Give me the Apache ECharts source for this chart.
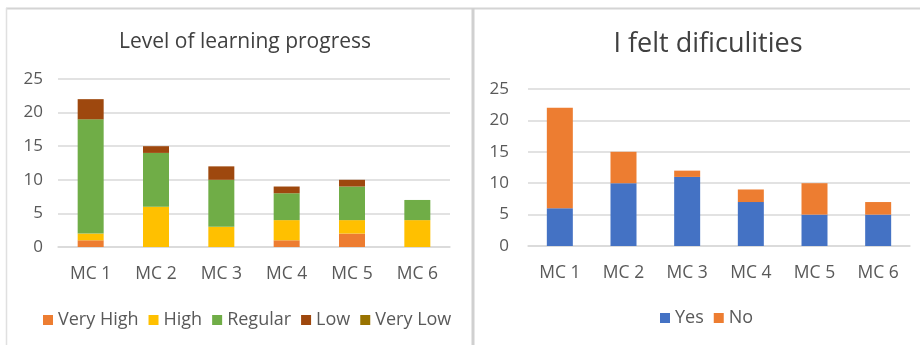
<!DOCTYPE html>
<html>
<head>
<meta charset="utf-8">
<script src="https://cdn.jsdelivr.net/npm/echarts@6/dist/echarts.min.js"></script>
<style>
  html, body { margin: 0; padding: 0; background: #ffffff; }
  #chart { width: 920px; height: 345px; }
</style>
</head>
<body>
<div id="chart"></div>
<script>
// Shared categories
const categories = ['MC 1', 'MC 2', 'MC 3', 'MC 4', 'MC 5', 'MC 6'];
const yTicks = { min: 0, max: 25, interval: 5 };

// Level of learning progress
const veryHigh = [1, 0, 0, 1, 2, 0];
const high     = [1, 6, 3, 3, 2, 4];
const regular  = [17, 8, 7, 4, 5, 3];
const low      = [3, 1, 2, 1, 1, 0];
const veryLow  = [0, 0, 0, 0, 0, 0];

// I felt dificulities
const yes = [6, 10, 11, 7, 5, 5];
const no  = [16, 5, 1, 2, 5, 2];

const FONT = '"Open Sans", "Noto Sans", sans-serif';
const GRID_COLOR = '#d9d9d9';
const LABEL_COLOR = '#595959';

function valueAxis(gridIndex, margin) {
  return {
    type: 'value', gridIndex,
    min: yTicks.min, max: yTicks.max, interval: yTicks.interval,
    axisLine: { show: false }, axisTick: { show: false },
    axisLabel: { color: LABEL_COLOR, fontSize: 17, fontFamily: FONT, margin },
    splitLine: { lineStyle: { color: GRID_COLOR, width: 1.5 } }
  };
}
function catAxis(gridIndex) {
  return {
    type: 'category', gridIndex, data: categories,
    axisLine: { lineStyle: { color: GRID_COLOR, width: 1.5 } },
    axisTick: { show: false },
    axisLabel: { color: LABEL_COLOR, fontSize: 17.5, fontFamily: FONT, margin: 18 }
  };
}
function bar(name, data, color, idx, stack) {
  return {
    name, type: 'bar', stack, data,
    xAxisIndex: idx, yAxisIndex: idx,
    barWidth: 26,
    itemStyle: { color },
    emphasis: { disabled: true }
  };
}

const chart = echarts.init(document.getElementById('chart'), null, { renderer: 'canvas' });
chart.setOption({
  animation: false,
  backgroundColor: '#ffffff',
  title: [
    { text: 'Level of learning progress', left: 240, top: 27, textAlign: 'center',
      textStyle: { fontFamily: FONT, fontSize: 21, fontWeight: 'normal', color: '#404040' } },
    { text: 'I felt dificulities', left: 703, top: 26, textAlign: 'center',
      textStyle: { fontFamily: FONT, fontSize: 27, fontWeight: 'normal', color: '#404040' } }
  ],
  legend: [
    { data: ['Very High', 'High', 'Regular', 'Low', 'Very Low'], left: 38, top: 306,
      itemWidth: 10, itemHeight: 10, itemGap: 10, icon: 'rect',
      textStyle: { fontFamily: FONT, fontSize: 18, color: LABEL_COLOR } },
    { data: ['Yes', 'No'], left: 655, top: 304,
      itemWidth: 10, itemHeight: 10, itemGap: 10, icon: 'rect',
      textStyle: { fontFamily: FONT, fontSize: 18, color: LABEL_COLOR } }
  ],
  grid: [
    { left: 58, right: 470, top: 79, bottom: 98 },
    { left: 528, right: 10, top: 89, bottom: 99 }
  ],
  xAxis: [catAxis(0), catAxis(1)],
  yAxis: [valueAxis(0, 15), valueAxis(1, 19)],
  series: [
    bar('Very High', veryHigh, '#ED7D31', 0, 'lp'),
    bar('High', high, '#FFC000', 0, 'lp'),
    bar('Regular', regular, '#70AD47', 0, 'lp'),
    bar('Low', low, '#9E480E', 0, 'lp'),
    bar('Very Low', veryLow, '#997300', 0, 'lp'),
    bar('Yes', yes, '#4472C4', 1, 'fd'),
    bar('No', no, '#ED7D31', 1, 'fd')
  ],
  graphic: [
    // panel frames
    { type: 'line', shape: { x1: 6, y1: 8.5, x2: 920, y2: 8.5 }, style: { stroke: '#d4d4d4', lineWidth: 2 } },
    { type: 'line', shape: { x1: 6.5, y1: 8, x2: 6.5, y2: 345 }, style: { stroke: '#e0e0e0', lineWidth: 1.5 } },
    { type: 'line', shape: { x1: 473, y1: 8, x2: 473, y2: 345 }, style: { stroke: '#d0d0d0', lineWidth: 3 } }
  ]
});
</script>
</body>
</html>
